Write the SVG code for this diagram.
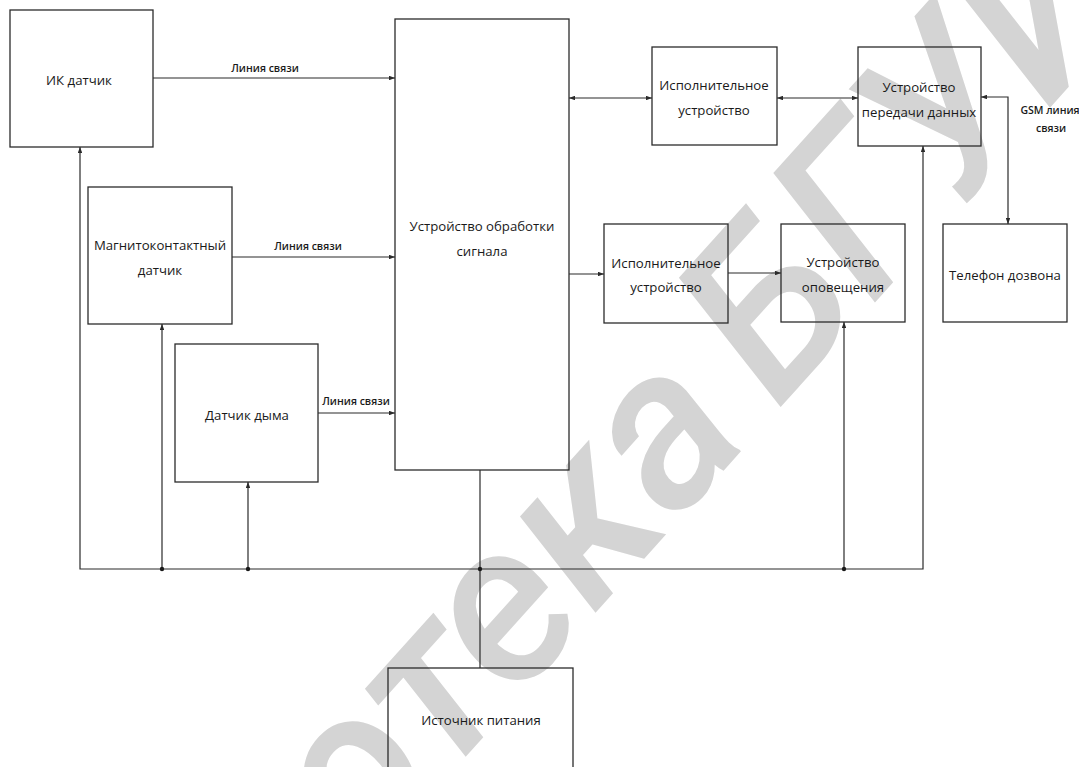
<svg xmlns="http://www.w3.org/2000/svg" width="1079" height="767" viewBox="0 0 1079 767">
<style>
.box{fill:none;stroke:#2b2b2b;stroke-width:1.3}
.lbl{font-family:"Open Sans","Noto Sans",sans-serif;font-size:13.2px;fill:#1a1a1a;text-anchor:middle}
.sm{font-family:"Open Sans","Noto Sans",sans-serif;font-size:10.5px;font-weight:600;fill:#1a1a1a;text-anchor:middle}
.ln{fill:none;stroke:#2b2b2b;stroke-width:1.2}
.wm{font-family:Roboto,"Open Sans",sans-serif;font-size:228px;font-style:italic;font-weight:500;fill:#d4d4d4}
</style>
<defs>
<marker id="a" viewBox="0 0 8 6" refX="8" refY="3" markerWidth="6" markerHeight="4.5" orient="auto-start-reverse" markerUnits="userSpaceOnUse"><path d="M0,0 L8,3 L0,6 z" fill="#2b2b2b"/></marker>
</defs>
<rect width="1079" height="767" fill="#ffffff"/>
<g id="watermark">
<text class="wm" transform="translate(778,410) rotate(-48)"><tspan x="-35" y="0" text-anchor="end">Библиотека</tspan><tspan x="0" y="0" text-anchor="start">БГУИР</tspan></text>
</g>
<g id="connectors">
<path class="ln" d="M153,78 H395" marker-end="url(#a)"/>
<path class="ln" d="M232,257 H395" marker-end="url(#a)"/>
<path class="ln" d="M318,413 H395" marker-end="url(#a)"/>
<path class="ln" d="M569,98 H652" marker-start="url(#a)" marker-end="url(#a)"/>
<path class="ln" d="M777,98 H858" marker-start="url(#a)" marker-end="url(#a)"/>
<path class="ln" d="M569,274 H604" marker-end="url(#a)"/>
<path class="ln" d="M728,273 H781" marker-end="url(#a)"/>
<path class="ln" d="M981,97 H1008 V224" marker-start="url(#a)" marker-end="url(#a)"/>
<path class="ln" d="M80,147 V569 H923 V146" marker-start="url(#a)" marker-end="url(#a)"/>
<path class="ln" d="M162,569 V324" marker-end="url(#a)"/>
<path class="ln" d="M248,569 V482" marker-end="url(#a)"/>
<path class="ln" d="M844,569 V322" marker-end="url(#a)"/>
<path class="ln" d="M480,470 V668"/>
<circle cx="162" cy="569" r="2.2" fill="#1a1a1a"/>
<circle cx="248" cy="569" r="2.2" fill="#1a1a1a"/>
<circle cx="480" cy="569" r="2.2" fill="#1a1a1a"/>
<circle cx="844" cy="569" r="2.2" fill="#1a1a1a"/>
<text class="sm" x="265" y="72">Линия связи</text>
<text class="sm" x="308" y="250">Линия связи</text>
<text class="sm" x="356" y="405">Линия связи</text>
<text class="sm" x="1050" y="114">GSM линия</text>
<text class="sm" x="1051" y="132">связи</text>
</g>
<g id="ik">
<rect class="box" x="10" y="10" width="143" height="137"/>
<text class="lbl" x="79" y="85">ИК датчик</text>
</g>
<g id="magnet">
<rect class="box" x="88" y="187" width="144" height="137"/>
<text class="lbl" x="160" y="250">Магнитоконтактный</text>
<text class="lbl" x="160" y="275">датчик</text>
</g>
<g id="smoke">
<rect class="box" x="175" y="344" width="143" height="138"/>
<text class="lbl" x="247" y="420">Датчик дыма</text>
</g>
<g id="processor">
<rect class="box" x="395" y="19" width="174" height="451"/>
<text class="lbl" x="482" y="231">Устройство обработки</text>
<text class="lbl" x="482" y="256">сигнала</text>
</g>
<g id="exec1">
<rect class="box" x="652" y="47" width="125" height="98"/>
<text class="lbl" x="714" y="90">Исполнительное</text>
<text class="lbl" x="714" y="115">устройство</text>
</g>
<g id="transmit">
<rect class="box" x="858" y="47" width="123" height="99"/>
<text class="lbl" x="919" y="92">Устройство</text>
<text class="lbl" x="919" y="117">передачи данных</text>
</g>
<g id="phone">
<rect class="box" x="943" y="224" width="124" height="98"/>
<text class="lbl" x="1005" y="280">Телефон дозвона</text>
</g>
<g id="exec2">
<rect class="box" x="604" y="224" width="124" height="99"/>
<text class="lbl" x="666" y="268">Исполнительное</text>
<text class="lbl" x="666" y="292">устройство</text>
</g>
<g id="alert">
<rect class="box" x="781" y="224" width="124" height="98"/>
<text class="lbl" x="843" y="267">Устройство</text>
<text class="lbl" x="843" y="292">оповещения</text>
</g>
<g id="power">
<rect class="box" x="388" y="668" width="185" height="120"/>
<text class="lbl" x="481" y="725">Источник питания</text>
</g>
</svg>
